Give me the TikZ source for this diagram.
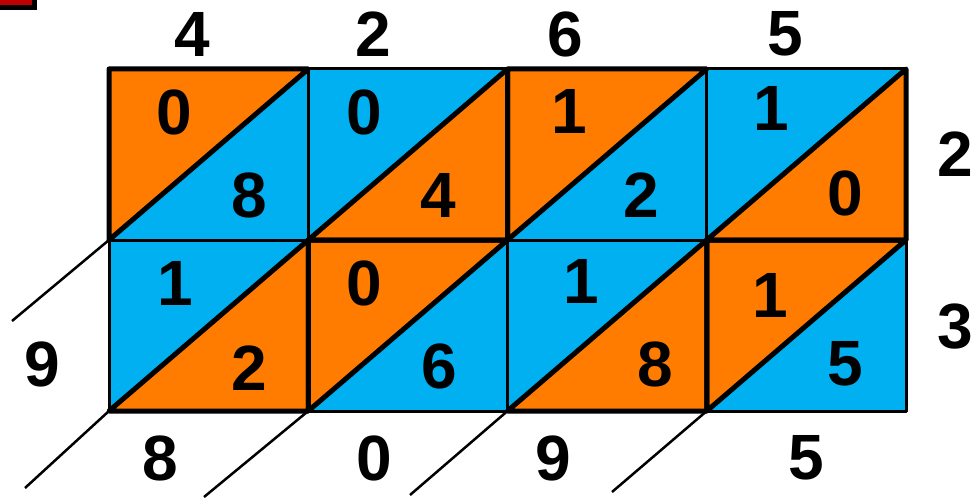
\documentclass[tikz,border=0pt]{standalone}
\usepackage{fontspec}
\setmainfont{Liberation Sans}
\definecolor{lorange}{RGB}{255,124,0}
\definecolor{lblue}{RGB}{0,176,240}
\definecolor{lred}{RGB}{192,0,0}
\tikzset{
  digit/.style={font=\fontsize{64}{64}\selectfont\bfseries, inner sep=0pt},
  thinline/.style={line width=3pt, line join=round},
  thickline/.style={line width=5pt, line join=round, line cap=round},
  extline/.style={line width=2.5pt},
}
\begin{document}
\begin{tikzpicture}[x=1pt,y=-1pt]
\useasboundingbox (0,0) rectangle (971,500);
\clip (0,0) rectangle (971,500);
% red corner mark
\draw[line width=5pt, fill=lred] (-5,-5) rectangle (34.5,7.5);
% grid coordinates
\foreach \i in {0,...,4}
  \foreach \j in {0,1,2}
    \coordinate (p\i\j) at ({109+199.25*\i},{69+171*\j});
% fills
\fill[lblue] (p00) rectangle (p42);
\fill[lorange] (p00)--(p10)--(p01)--cycle;
\fill[lorange] (p20)--(p21)--(p11)--cycle;
\fill[lorange] (p20)--(p30)--(p21)--cycle;
\fill[lorange] (p40)--(p41)--(p31)--cycle;
\fill[lorange] (p11)--(p12)--(p02)--cycle;
\fill[lorange] (p11)--(p21)--(p12)--cycle;
\fill[lorange] (p31)--(p32)--(p22)--cycle;
\fill[lorange] (p31)--(p41)--(p32)--cycle;
% thin grid
\draw[thinline] (p00) rectangle (p42);
\draw[thinline] (p01)--(p41);
\draw[thinline] (p10)--(p12) (p20)--(p22) (p30)--(p32);
% thick outlines of orange triangles
\draw[thickline] (p00)--(p10)--(p01)--cycle;
\draw[thickline] (p20)--(p21)--(p11)--cycle;
\draw[thickline] (p20)--(p30)--(p21)--cycle;
\draw[thickline] (p40)--(p41)--(p31)--cycle;
\draw[thickline] (p11)--(p12)--(p02)--cycle;
\draw[thickline] (p11)--(p21)--(p12)--cycle;
\draw[thickline] (p31)--(p32)--(p22)--cycle;
\draw[thickline] (p31)--(p41)--(p32)--cycle;
% extension lines
\coordinate (e1) at (12,321);
\coordinate (e2) at (25,488);
\coordinate (e3) at (204,497);
\coordinate (e4) at (410,495);
\coordinate (e5) at (612,492);
\draw[extline] (p01)--(e1);
\draw[extline] (p02)--(e2);
\draw[extline] (p12)--(e3);
\draw[extline] (p22)--(e4);
\draw[extline] (p32)--(e5);
% top labels
\node[digit] (t0) at (192,34) {4};
\node[digit] (t1) at (373,34) {2};
\node[digit] (t2) at (565,34) {6};
\node[digit] (t3) at (785,34) {5};
% right labels
\node[digit] (r0) at (955,154) {2};
\node[digit] (r1) at (955,327) {3};
% left label
\node[digit] (l0) at (42,364) {9};
% bottom labels
\node[digit] (b0) at (160,458) {8};
\node[digit] (b1) at (374,458) {0};
\node[digit] (b2) at (553,458) {9};
\node[digit] (b3) at (806,458) {5};
% cell digits row 0
\node[digit] (c00u) at (174,112) {0};
\node[digit] (c00l) at (249,195) {8};
\node[digit] (c01u) at (364,112) {0};
\node[digit] (c01l) at (438,195) {4};
\node[digit] (c02u) at (569,111) {1};
\node[digit] (c02l) at (641,195) {2};
\node[digit] (c03u) at (771,108) {1};
\node[digit] (c03l) at (845,193) {0};
% cell digits row 1
\node[digit] (c10u) at (175,283) {1};
\node[digit] (c10l) at (249,368) {2};
\node[digit] (c11u) at (364,283) {0};
\node[digit] (c11l) at (439,366) {6};
\node[digit] (c12u) at (581,281) {1};
\node[digit] (c12l) at (655,364) {8};
\node[digit] (c13u) at (770,295) {1};
\node[digit] (c13l) at (845,364) {5};
\end{tikzpicture}
\end{document}
